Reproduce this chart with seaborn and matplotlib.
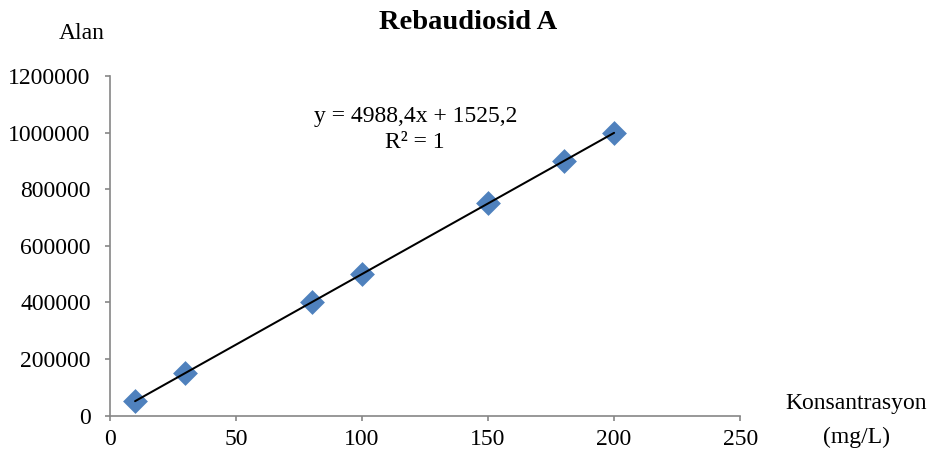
import numpy as np
import pandas as pd
import matplotlib
matplotlib.use("Agg")
import matplotlib.pyplot as plt
import seaborn as sns

# Calibration data for Rebaudiosid A
konsantrasyon = [10, 30, 80, 100, 150, 180, 200]
alan = [52000, 151500, 400500, 500500, 750000, 899500, 999500]

# Linear trendline coefficients shown in the equation label
slope = 4988.4
intercept = 1525.2
r_squared = 1

x_ticks = [0, 50, 100, 150, 200, 250]
y_ticks = [0, 200000, 400000, 600000, 800000, 1000000, 1200000]

sns.set_theme(style="white")
plt.rcParams["font.family"] = ["Liberation Serif", "DejaVu Serif"]
plt.rcParams["text.color"] = "black"

df = pd.DataFrame({"Konsantrasyon": konsantrasyon, "Alan": alan})
trend_x = np.array([min(konsantrasyon), max(konsantrasyon)])
trend = pd.DataFrame({"x": trend_x, "y": slope * trend_x + intercept})

fig = plt.figure(figsize=(9.31, 4.59), dpi=100)
ax = fig.add_axes([0.118, 0.0943, 0.677, 0.7401])

sns.scatterplot(data=df, x="Konsantrasyon", y="Alan", ax=ax, marker="D", s=160,
                color="#4F81BD", edgecolor="#4F81BD", linewidth=0, zorder=2)
sns.lineplot(data=trend, x="x", y="y", ax=ax, color="black", linewidth=1.45, zorder=3)

ax.set_xlim(0, 250)
ax.set_ylim(0, 1200000)
ax.set_xticks(x_ticks)
ax.set_yticks(y_ticks)
ax.set_xticklabels([str(v) for v in x_ticks])
ax.set_yticklabels([str(v) for v in y_ticks])
ax.set_xlabel("")
ax.set_ylabel("")

grey = "#868686"
for side in ["top", "right"]:
    ax.spines[side].set_visible(False)
for side in ["left", "bottom"]:
    ax.spines[side].set_color(grey)
    ax.spines[side].set_linewidth(1.2)
ax.tick_params(axis="both", which="major", direction="out", length=3.8, width=1.2,
               color=grey, labelsize=17, labelcolor="black")
ax.tick_params(axis="x", bottom=True, pad=6)
ax.tick_params(axis="y", left=True, pad=10)
ax.grid(False)

fig.text(0.503, 0.952, "Rebaudiosid A", ha="center", va="center",
         fontsize=20.5, fontweight="bold")
fig.text(0.088, 0.928, "Alan", ha="center", va="center", fontsize=17)
fig.text(0.92, 0.12, "Konsantrasyon", ha="center", va="center", fontsize=17)
fig.text(0.92, 0.046, "(mg/L)", ha="center", va="center", fontsize=17)

eq = f"y = {slope:.1f}x + {intercept:.1f}".replace(".", ",")
fig.text(0.446, 0.746, eq, ha="center", va="center", fontsize=17)
fig.text(0.446, 0.69, f"R² = {r_squared}", ha="center", va="center", fontsize=17)

fig.savefig("out.png", dpi=100)
